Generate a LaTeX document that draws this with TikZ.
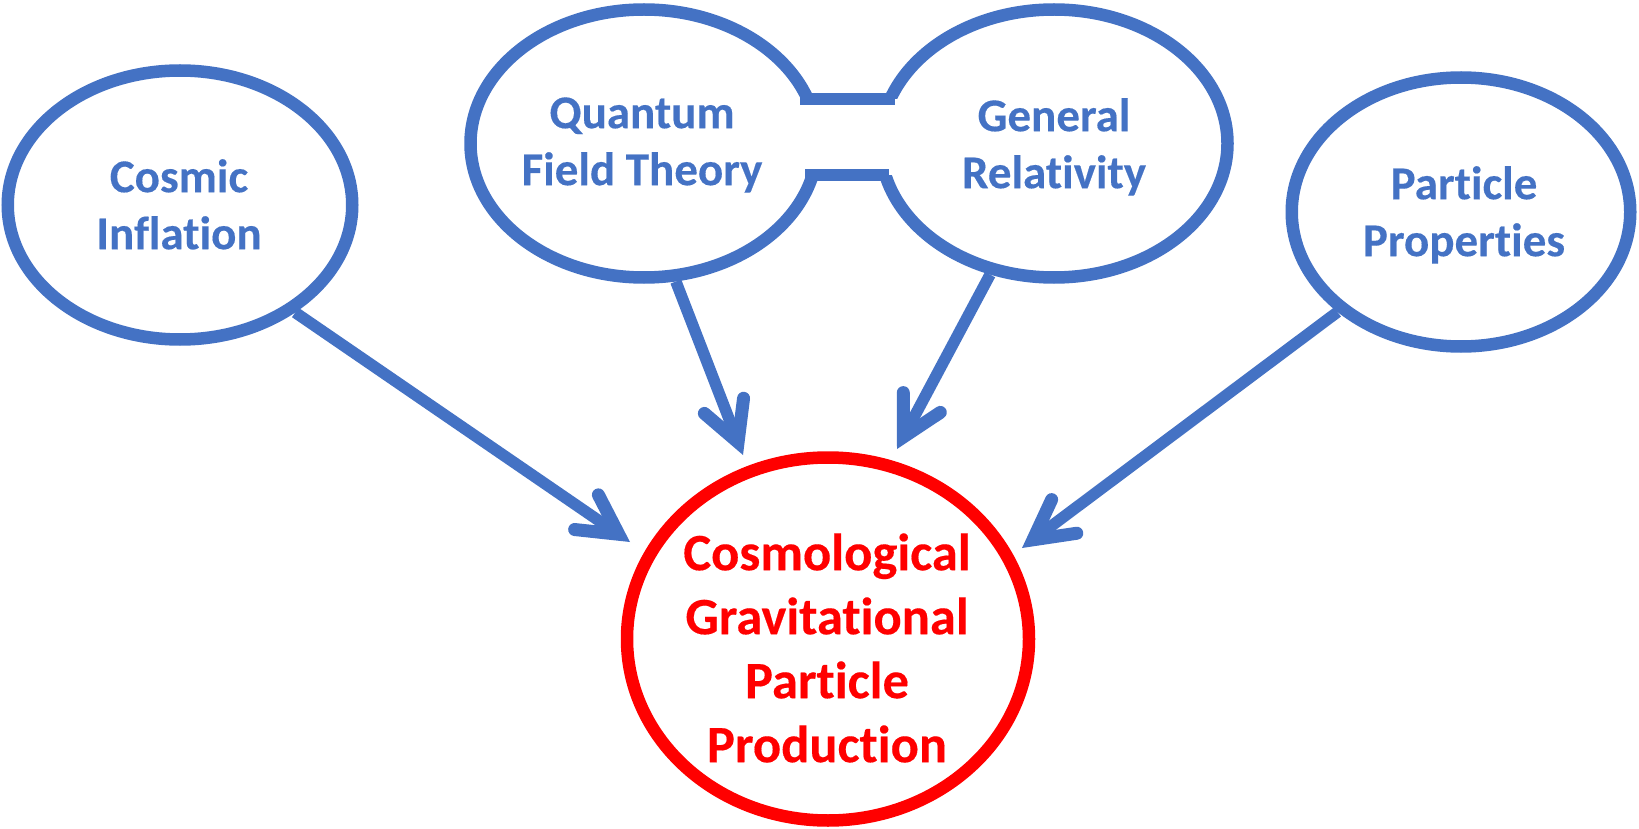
\documentclass[tikz,border=0pt]{standalone}
\usepackage{fontspec}
\setmainfont{Carlito}[Ligatures=CommonOff,BoldFeatures={FakeBold=0.3}]
\usetikzlibrary{shapes.geometric,arrows.meta}
\definecolor{cblue}{HTML}{4472C4}
\definecolor{cred}{HTML}{FF0000}
\begin{document}
\begin{tikzpicture}[x=1pt,y=-1pt,
  blueell/.style={ellipse, draw=cblue, line width=12.5pt, inner sep=0pt, minimum height=269pt},
  pairell/.style={ellipse, draw=cblue, line width=12.5pt, inner sep=0pt, minimum width=347pt, minimum height=268pt},
  redell/.style={ellipse, draw=cred, line width=12.5pt, inner sep=0pt, minimum width=402pt, minimum height=363pt},
  bluetxt/.style={anchor=north, inner sep=0pt, align=center, text=cblue, font=\bfseries\fontsize{47pt}{57pt}\selectfont},
  redtxt/.style={anchor=north, inner sep=0pt, align=center, text=cred, font=\bfseries\fontsize{52.5pt}{64pt}\selectfont},
  bandline/.style={draw=cblue, line width=12.5pt},
  arr/.style={draw=cblue, line width=11.5pt, -{Straight Barb[length=39pt,width=42pt,line width=13pt,line cap=round,line join=miter]}}
]
\useasboundingbox (0,0) rectangle (1639,829);

% shapes
\node[blueell, minimum width=344.5pt] (ci) at (180,205) {};
\node[pairell] (qft) at (644,143.5) {};
\node[pairell] (gr) at (1054,143.5) {};
\node[blueell, minimum width=338.5pt] (pp) at (1461,212) {};
\node[redell] (cgpp) at (828,639) {};

% band joining QFT and GR
\fill[white] (790,99.2) rectangle (905,175.2);
\coordinate (b1) at (800,99.2);
\coordinate (b2) at (895,99.2);
\coordinate (b3) at (805,175.2);
\coordinate (b4) at (889,175.2);
\draw[bandline] (b1) -- (b2);
\draw[bandline] (b3) -- (b4);

% texts
\node[bluetxt] (tci) at (179,152) {\rule{0pt}{40pt}Cosmic\\Inflation};
\node[bluetxt] (tqft) at (642,88) {\rule{0pt}{40pt}Quantum\\Field Theory};
\node[bluetxt] (tgr) at (1054,91) {\rule{0pt}{40pt}General\\Relativity};
\node[bluetxt] (tpp) at (1464,159) {\rule{0pt}{40pt}Particle\\Properties};
\node[redtxt] (tcgpp) at (827,525) {\rule{0pt}{45pt}Cosmological\\Gravitational\\Particle\\Production};

% arrows
\coordinate (t1) at (630,542);
\coordinate (t2) at (743,455);
\coordinate (t3) at (897,449);
\coordinate (t4) at (1022,548);
\draw[arr] (ci.-43.7) -- (t1);
\draw[arr] (qft.-77.4) -- (t2);
\draw[arr] (gr.-116.3) -- (t3);
\draw[arr] (pp.-141.1) -- (t4);
\end{tikzpicture}
\end{document}
